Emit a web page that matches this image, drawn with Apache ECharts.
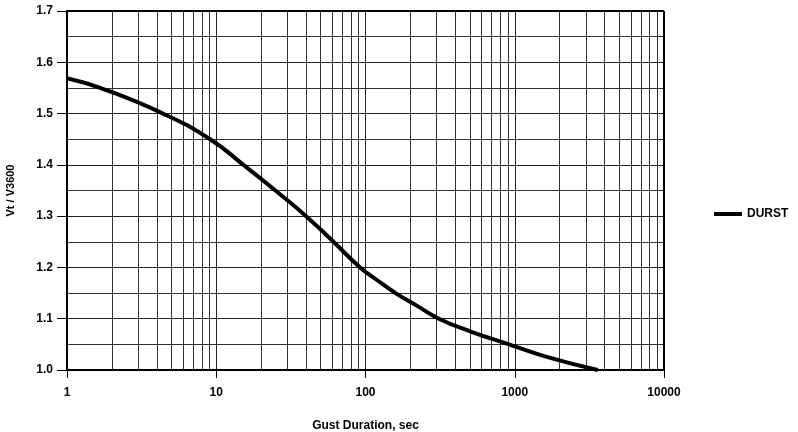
<!DOCTYPE html>
<html>
<head>
<meta charset="utf-8">
<script src="https://cdn.jsdelivr.net/npm/echarts@6/dist/echarts.min.js"></script>
<style>
  html, body { margin: 0; padding: 0; background: #fff; }
  #chart { width: 798px; height: 432px; }
</style>
</head>
<body>
<div id="chart"></div>
<script>
// gust duration (sec) and Vt/V3600 (mostly where it crosses grid lines)
const durations = [1, 1.67, 4.4, 9.1, 15.2, 24.9, 40, 61, 92, 120, 159, 222, 310, 507, 913, 1659, 3600]
const durstRatio = [1.569, 1.55, 1.50, 1.45, 1.40, 1.35, 1.30, 1.25, 1.20, 1.175, 1.15, 1.125, 1.10, 1.075, 1.05, 1.025, 1.00]

// minor vertical grid lines inside each decade
const minorX = [2, 3, 4, 5, 6, 7, 8, 9, 20, 30, 40, 50, 60, 70, 80, 90,
  200, 300, 400, 500, 600, 700, 800, 900, 2000, 3000, 4000, 5000, 6000, 7000, 8000, 9000]

const font = 'Liberation Sans, Arial, sans-serif'

const chart = echarts.init(document.getElementById('chart'))
chart.setOption({
  animation: false,
  grid: { left: 67, right: 134, top: 11, bottom: 62, outerBoundsMode: 'none' },
  legend: {
    left: 709,
    top: 203,
    icon: 'rect',
    itemWidth: 28,
    itemHeight: 4,
    itemGap: 4,
    textStyle: { fontFamily: font, fontWeight: 'bold', fontSize: 12, color: '#000' },
    data: ['DURST']
  },
  xAxis: {
    type: 'log',
    logBase: 10,
    min: 1,
    max: 10000,
    name: 'Gust Duration, sec',
    nameLocation: 'middle',
    nameGap: 50,
    nameTextStyle: { fontFamily: font, fontWeight: 'bold', fontSize: 12, color: '#000' },
    axisLine: { show: true, lineStyle: { color: '#000', width: 2 } },
    axisTick: { show: true, length: 8, lineStyle: { color: '#000', width: 1 } },
    axisLabel: {
      fontFamily: font, fontWeight: 'bold', fontSize: 12, color: '#000', margin: 17,
      formatter: v => String(Math.round(v))
    },
    splitLine: { show: true, lineStyle: { color: '#222', width: 1 } }
  },
  yAxis: {
    type: 'value',
    min: 1.0,
    max: 1.7,
    interval: 0.1,
    name: 'Vt / V3600',
    nameLocation: 'middle',
    nameGap: 51,
    nameTextStyle: { fontFamily: font, fontWeight: 'bold', fontSize: 11, color: '#000' },
    axisLine: { show: true, lineStyle: { color: '#000', width: 2 } },
    axisTick: { show: true, length: 10, lineStyle: { color: '#000', width: 1 } },
    axisLabel: {
      fontFamily: font, fontWeight: 'bold', fontSize: 12, color: '#000', margin: 14,
      formatter: v => v.toFixed(1)
    },
    splitLine: { show: true, lineStyle: { color: '#222', width: 1 } },
    minorTick: { show: false, splitNumber: 2 },
    minorSplitLine: { show: true, lineStyle: { color: '#333', width: 1 } }
  },
  series: [
    {
      name: 'DURST',
      type: 'line',
      smooth: 0.5,
      showSymbol: false,
      symbol: 'none',
      lineStyle: { color: '#000', width: 4 },
      itemStyle: { color: '#000' },
      data: durations.map((d, i) => [d, durstRatio[i]]),
      z: 5
    },
    {
      name: 'grid',
      type: 'line',
      data: [],
      markLine: {
        silent: true,
        symbol: ['none', 'none'],
        label: { show: false },
        lineStyle: { color: '#333', width: 1, type: 'solid' },
        data: minorX.map(v => ({ xAxis: v }))
      },
      z: 1
    },
    {
      name: 'frame',
      type: 'line',
      data: [],
      markLine: {
        silent: true,
        symbol: ['none', 'none'],
        label: { show: false },
        lineStyle: { color: '#000', width: 2, type: 'solid' },
        data: [{ xAxis: 10000 }, { yAxis: 1.7 }]
      },
      z: 2
    }
  ]
})
</script>
</body>
</html>
